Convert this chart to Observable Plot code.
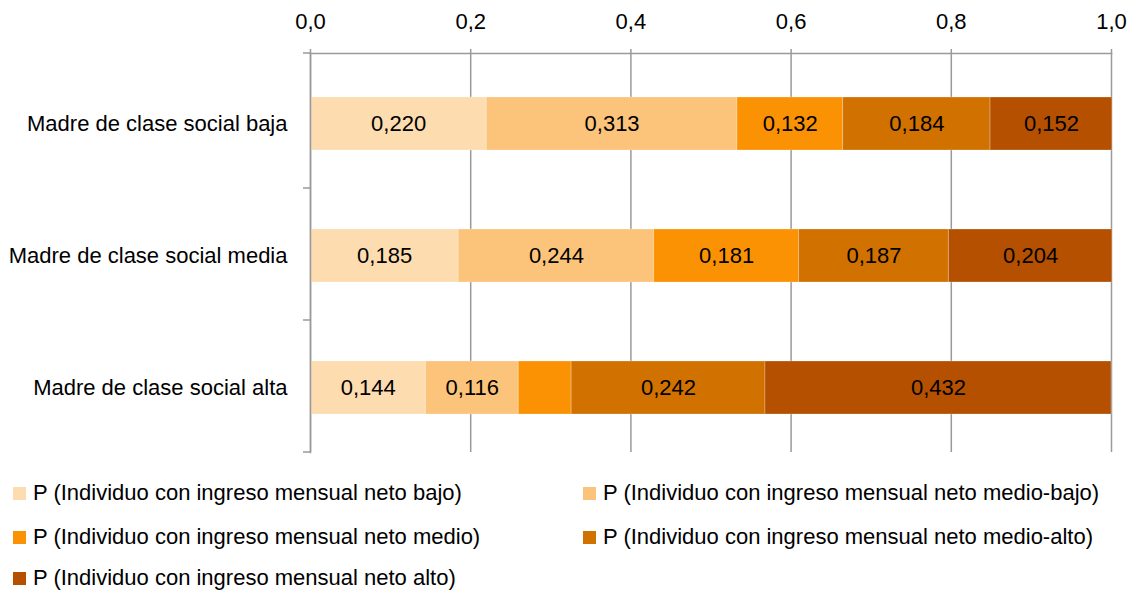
<!DOCTYPE html>
<html>
<head>
<meta charset="utf-8">
<script src="https://cdn.jsdelivr.net/npm/d3@7"></script>
<script src="https://cdn.jsdelivr.net/npm/@observablehq/plot@0.6"></script>
<style>
  html, body { margin: 0; padding: 0; background: #fff; }
  #wrap { position: relative; width: 1136px; height: 595px; font-family: "Liberation Sans", Arial, sans-serif; }
  .leg { position: absolute; display: flex; align-items: center; font-size: 22px; color: #000; white-space: nowrap; line-height: 24px; }
  .sw { width: 13px; height: 13px; margin-right: 7px; }
</style>
</head>
<body>
<div id="wrap"><div id="chart"></div></div>
<script>
const categories = ["Madre de clase social baja", "Madre de clase social media", "Madre de clase social alta"];
const series = [
  "P (Individuo con ingreso mensual neto bajo)",
  "P (Individuo con ingreso mensual neto medio-bajo)",
  "P (Individuo con ingreso mensual neto medio)",
  "P (Individuo con ingreso mensual neto medio-alto)",
  "P (Individuo con ingreso mensual neto alto)"
];
const colors = ["#FDDCAF", "#FCC47B", "#FB9203", "#D07100", "#B45000"];
const valsBaja  = [0.220, 0.313, 0.132, 0.184, 0.152];
const valsMedia = [0.185, 0.244, 0.181, 0.187, 0.204];
const valsAlta  = [0.144, 0.116, 0.066, 0.242, 0.432];
const showLabel = [[true,true,true,true,true],[true,true,true,true,true],[true,true,false,true,true]];
const xTicks = [0, 0.2, 0.4, 0.6, 0.8, 1.0];

const allVals = [valsBaja, valsMedia, valsAlta];
const data = [];
categories.forEach((c, i) => series.forEach((s, j) => data.push({cat: c, series: s, value: allVals[i][j], show: showLabel[i][j]})));

const fmt = (d, n) => d3.format("." + n + "f")(d).replace(".", ",");
const font = '"Liberation Sans", Arial, sans-serif';

const plot = Plot.plot({
  width: 1136,
  height: 460,
  marginTop: 53,
  marginLeft: 310,
  marginRight: 25,
  marginBottom: 8,
  style: {fontFamily: font, fontSize: "22px", color: "#000", background: "#fff"},
  x: {domain: [0, 1], label: null},
  y: {domain: categories, paddingInner: 0.6, paddingOuter: 0.31, align: 0.53, axis: null, label: null},
  color: {domain: series, range: colors},
  marks: [
    Plot.gridX(xTicks, {stroke: "#9a9a9a", strokeOpacity: 1, strokeWidth: 1.5}),
    Plot.barX(data, Plot.stackX({x: "value", y: "cat", fill: "series", order: series, stroke: "#fff", strokeOpacity: 0.25, strokeWidth: 1})),
    Plot.text(data, Plot.stackX({x: "value", y: "cat", z: "series", order: series, text: d => d.show ? fmt(d.value, 3) : "", fill: "#000", fontSize: 22})),
    Plot.axisX(xTicks, {anchor: "top", label: null, tickSize: 5, tickPadding: 20, tickFormat: d => fmt(d, 1), stroke: "#9a9a9a", strokeWidth: 1.5, fontSize: 22, fill: "#000"}),
    Plot.axisY(categories, {anchor: "left", label: null, tickSize: 0, tickPadding: 23, fontSize: 22, fill: "#000"}),
    Plot.frame({anchor: "top", stroke: "#9a9a9a", strokeWidth: 1.5}),
    Plot.frame({anchor: "left", stroke: "#9a9a9a", strokeWidth: 1.5})
  ]
});
document.getElementById("chart").appendChild(plot);

// left axis tick marks at band boundaries, from the library's y scale
const ys = plot.scale("y");
const step = ys.step;
const svg = d3.select(plot);
const ybot = ys.range[1];
const bounds = categories.map((c, i) => ybot - (categories.length - 1 - i) * step);
const x0 = plot.scale("x").apply(0);
svg.append("g").selectAll("line").data(bounds).join("line")
  .attr("x1", x0 - 7).attr("x2", x0).attr("y1", d => d).attr("y2", d => d)
  .attr("stroke", "#9a9a9a").attr("stroke-width", 1.5);
svg.append("line").attr("x1", x0 - 7).attr("x2", x0).attr("y1", ys.range[0]).attr("y2", ys.range[0])
  .attr("stroke", "#9a9a9a").attr("stroke-width", 1.5);

// legend
const wrap = document.getElementById("wrap");
const legPos = [[13, 493], [583, 493], [13, 537], [583, 537], [13, 578]];
series.forEach((s, i) => {
  const d = document.createElement("div");
  d.className = "leg";
  d.style.left = legPos[i][0] + "px";
  d.style.top = (legPos[i][1] - 12) + "px";
  d.innerHTML = `<div class="sw" style="background:${colors[i]}"></div><span>${s}</span>`;
  wrap.appendChild(d);
});
</script>
</body>
</html>
